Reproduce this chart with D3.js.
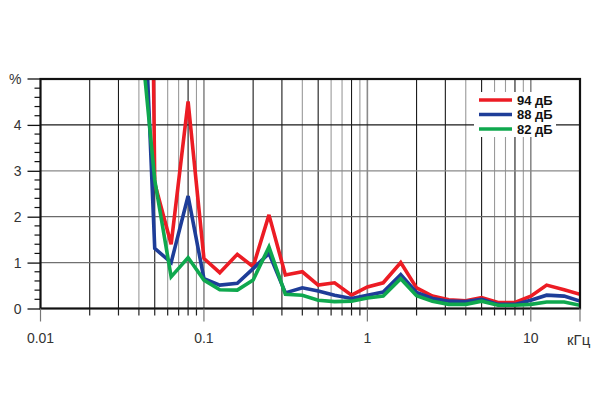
<!DOCTYPE html>
<html><head><meta charset="utf-8">
<script src="https://cdn.jsdelivr.net/npm/d3@7"></script>
<style>body{margin:0;background:#fff}svg{display:block}</style>
</head><body>
<svg id="c" width="600" height="420"></svg>
<script>
const freqs = [0.04,0.05,0.063,0.08,0.1,0.125,0.16,0.2,0.25,0.315,0.4,0.5,0.63,0.8,1,1.25,1.6,2,2.5,3.15,4,5,6.3,8,10,12.5,16,20];
const red94 = [33,2.73,1.4,4.51,1.09,0.78,1.18,0.91,2.04,0.73,0.8,0.51,0.56,0.29,0.47,0.56,1.0,0.45,0.27,0.19,0.17,0.24,0.13,0.13,0.27,0.51,0.41,0.31];
const blue88 = [9.6,1.31,1.0,2.45,0.65,0.51,0.55,0.87,1.2,0.34,0.45,0.38,0.29,0.22,0.29,0.36,0.74,0.35,0.22,0.16,0.15,0.2,0.09,0.09,0.18,0.29,0.27,0.16];
const green82 = [6.4,2.8,0.69,1.11,0.62,0.41,0.4,0.62,1.34,0.31,0.29,0.18,0.15,0.16,0.23,0.27,0.65,0.28,0.16,0.09,0.09,0.16,0.07,0.07,0.09,0.14,0.14,0.07];
const seriesNames = ["94 дБ","88 дБ","82 дБ"];
const seriesColors = ["#ec1c24","#1e3d98","#0fa84e"];
const xLabels = [0.01,0.1,1,10];
const xLabelText = ["0.01","0.1","1","10"];
const yLabels = [0,1,2,3,4];

const svg = d3.select("#c");
const L=40.5, R=580, T=79, B=308.5;
const x = d3.scaleLog().domain([0.01,20]).range([L,R]);
const y = d3.scaleLinear().domain([0,5]).range([B,T]);

// vertical grid
const minorVals=[];
for (const dec of [0.01,0.1,1,10]) for (let k=1;k<=9;k++){const v=dec*k; if(v>0.01 && v<20) minorVals.push({v,k});}
const gridColor = k => (k===1? "#8a8a8a" : ([2,3,5,8].includes(k)? "#1a1a1a":"#9a9a9a"));
svg.append("g").selectAll("line").data(minorVals).join("line")
  .attr("x1",d=>x(d.v)).attr("x2",d=>x(d.v)).attr("y1",T).attr("y2",B)
  .attr("stroke",d=>gridColor(d.k)).attr("stroke-width",d=>d.k===1?1.6:1.1);
// horizontal grid
const hg=[1,2,3,4];
const hcol={1:"#707070",2:"#6a6a6a",3:"#8a8a8a",4:"#1a1a1a"};
svg.append("g").selectAll("line").data(hg).join("line")
  .attr("x1",L).attr("x2",R).attr("y1",d=>y(d)).attr("y2",d=>y(d))
  .attr("stroke",d=>hcol[d]).attr("stroke-width",1.3);

// series
const clip = svg.append("clipPath").attr("id","pc").append("rect").attr("x",L).attr("y",T).attr("width",R-L).attr("height",B-T);
const line = d3.line().x((d,i)=>x(freqs[i])).y(d=>y(d));
[red94,blue88,green82].forEach((s,i)=>{
  svg.append("path").datum(s).attr("d",line).attr("clip-path","url(#pc)")
    .attr("fill","none").attr("stroke",seriesColors[i]).attr("stroke-width",3.6)
    .attr("stroke-linejoin","miter").attr("stroke-miterlimit",3);
});

// legend
const lg = svg.append("g");
lg.append("rect").attr("x",474).attr("y",92).attr("width",82).attr("height",45).attr("fill","#fff");
seriesNames.forEach((n,i)=>{
  const yy = 100 + i*14.5;
  lg.append("line").attr("x1",479).attr("x2",512).attr("y1",yy).attr("y2",yy)
    .attr("stroke",seriesColors[i]).attr("stroke-width",3.6);
  lg.append("text").attr("x",517).attr("y",yy+4.5).text(n)
    .attr("font-family","Liberation Sans, Arial, sans-serif").attr("font-weight","bold")
    .attr("font-size",13).attr("fill","#111");
});

// frame
svg.append("rect").attr("x",L).attr("y",T).attr("width",R-L).attr("height",B-T)
  .attr("fill","none").attr("stroke","#111").attr("stroke-width",2.2);

// y axis ticks
const yAxis = d3.axisLeft(y).tickValues(yLabels).tickSize(13).tickFormat(d3.format("d"));
const ya = svg.append("g").attr("transform",`translate(${L},0)`).call(yAxis);
ya.select(".domain").remove();
ya.selectAll("line").attr("stroke","#111").attr("stroke-width",1.3);
ya.selectAll("text").attr("font-family","Liberation Sans, Arial, sans-serif").attr("font-size",14).attr("fill","#333").attr("dx",-3).attr("dy","0.34em").attr("y",0);
const yMinor = d3.range(0,5.01,0.2).filter(v=>Math.abs(v-Math.round(v))>0.01);
svg.append("g").selectAll("line").data(yMinor).join("line")
  .attr("x1",L-6).attr("x2",L).attr("y1",d=>y(d)).attr("y2",d=>y(d)).attr("stroke","#111").attr("stroke-width",1.2);
svg.append("line").attr("x1",L-13).attr("x2",L).attr("y1",y(5)).attr("y2",y(5)).attr("stroke","#111").attr("stroke-width",1.3);
svg.append("text").attr("x",9).attr("y",y(5)+5).text("%")
  .attr("font-family","Liberation Sans, Arial, sans-serif").attr("font-size",14).attr("fill","#333");

// x axis ticks
const xTickAll = minorVals.concat([{v:0.01,k:1},{v:20,k:1}]);
svg.append("g").selectAll("line").data(xTickAll).join("line")
  .attr("x1",d=>x(d.v)).attr("x2",d=>x(d.v)).attr("y1",B)
  .attr("y2",d=>B+((d.k===1||d.v===20)?13:7)).attr("stroke",d=>d.k===1?"#777":"#222").attr("stroke-width",1.2);
svg.append("g").selectAll("text").data(xLabels).join("text")
  .attr("x",d=>x(d)).attr("y",343).attr("text-anchor","middle").text((d,i)=>xLabelText[i])
  .attr("font-family","Liberation Sans, Arial, sans-serif").attr("font-size",14).attr("fill","#333");
svg.append("text").attr("x",567).attr("y",345).text("кГц")
  .attr("font-family","Liberation Sans, Arial, sans-serif").attr("font-size",15).attr("fill","#333");
</script>
</body></html>
